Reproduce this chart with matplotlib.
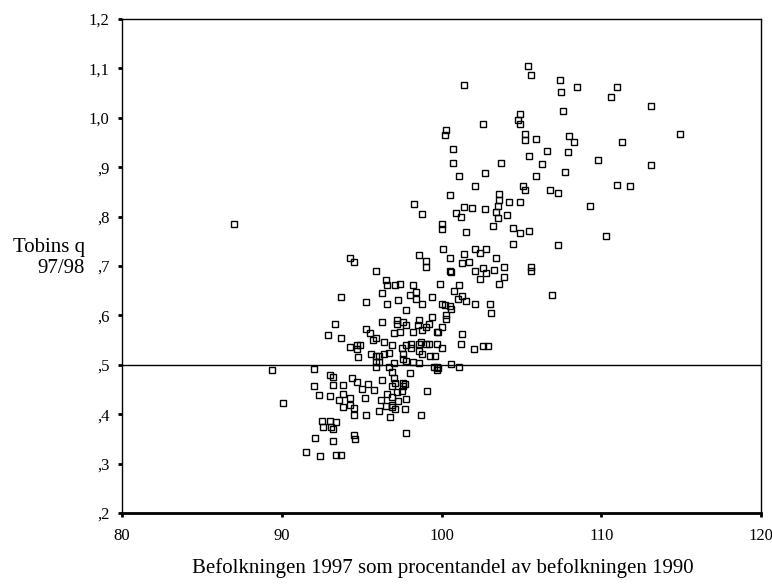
import numpy as np
import matplotlib.pyplot as plt

plt.rcParams['font.family'] = ['Liberation Serif', 'DejaVu Serif']

# population 1997 as % of 1990
befolkning = [
    105.4, 105.6, 101.4, 107.4, 107.5, 108.5, 111.0, 110.6, 113.1, 107.6,
    104.9, 104.8, 104.9, 102.6, 100.3, 100.2, 105.2, 105.2, 105.9, 108.0,
    108.3, 111.3, 114.9, 100.7, 106.6, 107.9, 105.5, 100.7, 103.7, 106.3,
    109.8, 113.1, 102.7, 101.1, 107.7, 105.9, 102.1, 105.1, 105.2, 106.8,
    107.3, 111.0, 111.8, 100.5, 103.6, 103.6, 104.2, 104.9, 98.3, 101.4,
    101.9, 102.7, 103.5, 103.4, 100.9, 101.2, 98.8, 103.5, 104.1, 109.3,
    87.0, 100.0, 100.0, 103.2, 104.5, 105.5, 104.9, 101.5, 110.3, 107.3,
    104.5, 100.1, 102.1, 102.8, 98.6, 94.3, 94.5, 99.0, 99.0, 100.5,
    101.4, 102.4, 101.3, 101.7, 103.4, 102.1, 102.6, 103.3, 102.8, 103.9,
    105.6, 105.6, 102.4, 103.9, 103.6, 100.5, 100.6, 95.9, 99.9, 101.1,
    96.5, 96.6, 97.1, 97.4, 98.2, 100.8, 96.3, 98.0, 98.4, 98.4,
    97.3, 99.4, 93.7, 101.3, 101.5, 101.0, 106.9, 95.3, 96.6, 98.8,
    100.0, 100.2, 100.5, 100.6, 102.1, 103.0, 103.1, 97.8, 99.4, 100.3,
    100.3, 93.3, 92.9, 93.7, 95.3, 95.5, 96.3, 97.2, 97.2, 97.6,
    97.8, 97.0, 97.4, 98.2, 98.5, 98.6, 98.8, 99.0, 99.2, 99.7,
    99.8, 100.0, 95.7, 95.9, 96.4, 94.7, 94.3, 94.9, 94.7, 94.8,
    96.9, 97.8, 98.1, 98.7, 98.6, 97.5, 98.1, 99.0, 99.2, 99.7,
    100.0, 101.3, 101.2, 102.0, 102.6, 102.9, 98.6, 98.8, 99.3, 99.6,
    95.6, 95.9, 96.1, 96.4, 96.7, 97.6, 97.6, 95.9, 96.1, 95.9,
    97.0, 96.7, 97.8, 98.2, 98.6, 99.5, 99.7, 99.7, 99.8, 100.6,
    101.1, 89.4, 92.0, 93.0, 93.2, 92.0, 93.2, 93.8, 94.4, 94.7,
    95.0, 95.4, 96.3, 96.9, 97.0, 98.0, 97.1, 96.9, 97.6, 97.7,
    97.6, 97.2, 97.5, 99.1, 95.8, 96.6, 92.3, 93.0, 93.8, 93.6,
    93.8, 94.3, 95.2, 96.2, 96.9, 97.3, 97.8, 90.1, 94.3, 94.5,
    94.5, 95.3, 96.1, 96.5, 96.9, 96.9, 97.1, 97.7, 96.8, 98.7,
    92.5, 93.0, 93.4, 92.6, 93.1, 93.2, 97.8, 92.1, 94.5, 94.6,
    93.2, 91.5, 92.4, 93.4, 93.7,
]

# Tobins q 97/98
tobins_q = [
    1.105, 1.087, 1.067, 1.076, 1.052, 1.062, 1.062, 1.043, 1.024, 1.014,
    1.007, 0.996, 0.988, 0.988, 0.975, 0.965, 0.967, 0.956, 0.957, 0.964,
    0.951, 0.951, 0.967, 0.937, 0.933, 0.930, 0.923, 0.908, 0.908, 0.906,
    0.914, 0.904, 0.888, 0.883, 0.890, 0.883, 0.861, 0.862, 0.854, 0.853,
    0.848, 0.864, 0.861, 0.843, 0.845, 0.833, 0.829, 0.829, 0.826, 0.820,
    0.818, 0.815, 0.821, 0.810, 0.808, 0.800, 0.805, 0.798, 0.803, 0.821,
    0.785, 0.785, 0.775, 0.782, 0.777, 0.771, 0.767, 0.768, 0.761, 0.742,
    0.745, 0.734, 0.734, 0.734, 0.722, 0.717, 0.708, 0.711, 0.698, 0.716,
    0.724, 0.726, 0.706, 0.708, 0.717, 0.690, 0.695, 0.692, 0.686, 0.698,
    0.698, 0.689, 0.673, 0.677, 0.663, 0.689, 0.687, 0.690, 0.664, 0.661,
    0.671, 0.661, 0.661, 0.664, 0.661, 0.649, 0.645, 0.642, 0.648, 0.633,
    0.632, 0.637, 0.637, 0.639, 0.629, 0.633, 0.642, 0.627, 0.623, 0.624,
    0.624, 0.622, 0.619, 0.613, 0.624, 0.624, 0.605, 0.611, 0.597, 0.592,
    0.601, 0.583, 0.561, 0.555, 0.573, 0.564, 0.587, 0.590, 0.583, 0.586,
    0.580, 0.564, 0.567, 0.567, 0.580, 0.590, 0.570, 0.576, 0.582, 0.567,
    0.567, 0.576, 0.550, 0.555, 0.547, 0.541, 0.536, 0.540, 0.531, 0.515,
    0.540, 0.540, 0.543, 0.546, 0.542, 0.533, 0.533, 0.542, 0.542, 0.542,
    0.534, 0.563, 0.542, 0.531, 0.539, 0.539, 0.527, 0.521, 0.518, 0.518,
    0.521, 0.518, 0.518, 0.521, 0.524, 0.521, 0.512, 0.505, 0.505, 0.496,
    0.503, 0.496, 0.508, 0.505, 0.504, 0.496, 0.496, 0.489, 0.494, 0.502,
    0.496, 0.489, 0.492, 0.480, 0.476, 0.458, 0.459, 0.460, 0.473, 0.465,
    0.451, 0.462, 0.470, 0.486, 0.473, 0.484, 0.463, 0.458, 0.464, 0.461,
    0.457, 0.444, 0.446, 0.446, 0.448, 0.441, 0.438, 0.436, 0.440, 0.429,
    0.415, 0.433, 0.432, 0.429, 0.435, 0.426, 0.431, 0.422, 0.418, 0.413,
    0.399, 0.399, 0.407, 0.417, 0.414, 0.419, 0.410, 0.410, 0.394, 0.399,
    0.386, 0.387, 0.385, 0.375, 0.375, 0.371, 0.362, 0.352, 0.357, 0.349,
    0.346, 0.323, 0.315, 0.317, 0.317,
]

yticks = [0.2, 0.3, 0.4, 0.5, 0.6, 0.7, 0.8, 0.9, 1.0, 1.1, 1.2]
ytick_labels = [",2", ",3", ",4", ",5", ",6", ",7", ",8", ",9", "1,0", "1,1", "1,2"]
xticks = [80, 90, 100, 110, 120]

fig = plt.figure(figsize=(7.72, 5.88), dpi=100)
ax = fig.add_axes([0.158, 0.1276, 0.828, 0.840])

ax.plot(befolkning, tobins_q, ls="none", marker="s", markersize=5,
        markerfacecolor="none", markeredgecolor="k", markeredgewidth=1)
ax.axhline(0.5, color="k", lw=1)

ax.set_xlim(80, 120)
ax.set_ylim(0.2, 1.2)
ax.set_xticks(xticks)
ax.set_yticks(yticks)
ax.set_yticklabels(ytick_labels)
ax.tick_params(labelsize=12, length=3, width=2, direction="out")
ax.tick_params(axis="x", pad=8)
ax.tick_params(axis="y", pad=6)
for s in ax.spines.values():
    s.set_linewidth(1)
ax.spines['bottom'].set_linewidth(2)

fig.text(0.110, 0.561, "Tobins q\n97/98", ha="right", va="center",
         fontsize=15, linespacing=1.15)
fig.text(0.574, 0.034, "Befolkningen 1997 som procentandel av befolkningen 1990",
         ha="center", va="center", fontsize=15)

plt.savefig("out.png", dpi=100)
